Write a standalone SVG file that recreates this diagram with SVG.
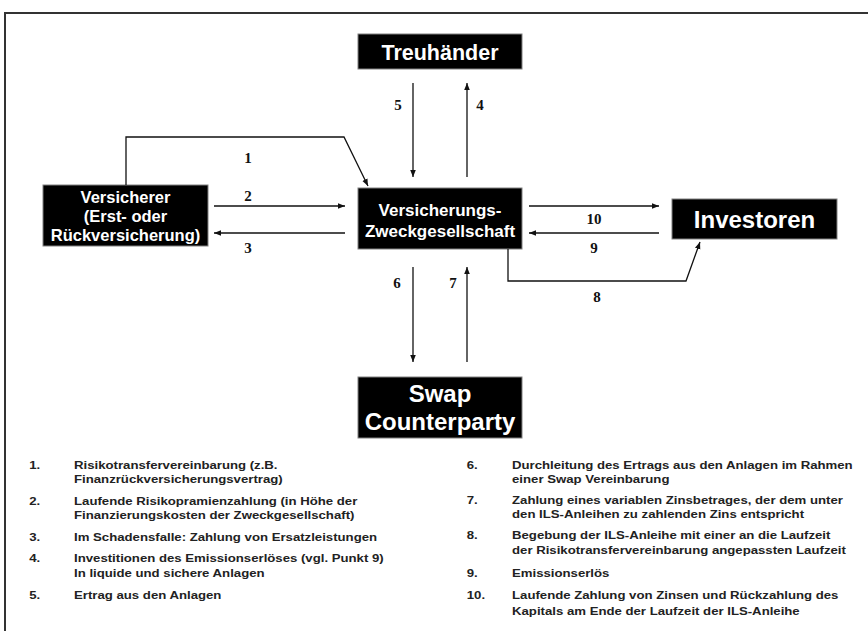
<svg xmlns="http://www.w3.org/2000/svg" width="868" height="631" viewBox="0 0 868 631">
<style>
.box{fill:#000;stroke:#808080;stroke-width:1}
.bt{fill:#fff;font-family:"Liberation Sans",Arial,sans-serif;font-weight:bold;text-anchor:middle}
.ln{fill:none;stroke:#111;stroke-width:1.3}
.num{font-family:"Liberation Serif","Times New Roman",serif;font-weight:bold;font-size:15px;fill:#111;text-anchor:middle}
.lg{font-family:"Liberation Sans",Arial,sans-serif;font-weight:bold;font-size:11px;fill:#222}
</style>
<defs>
<marker id="ah" viewBox="0 0 10 10" refX="10" refY="5" markerWidth="7" markerHeight="7" markerUnits="userSpaceOnUse" orient="auto">
<path d="M0,1 L10,5 L0,9 Z" fill="#111"/>
</marker>
</defs>
<rect width="868" height="631" fill="#fff"/>
<path d="M5,631 V13 H868" fill="none" stroke="#333" stroke-width="2"/>

<g id="treuhaender">
<rect class="box" x="358" y="34" width="164" height="35"/>
<text class="bt" x="440" y="60" font-size="21.5">Treuhänder</text>
</g>
<g id="versicherer">
<rect class="box" x="43" y="185" width="165" height="61"/>
<text class="bt" x="125.5" y="203" font-size="16.5">Versicherer</text>
<text class="bt" x="125.5" y="222" font-size="16.5">(Erst- oder</text>
<text class="bt" x="125.5" y="241" font-size="16.5">Rückversicherung)</text>
</g>
<g id="zweckgesellschaft">
<rect class="box" x="358" y="188" width="164" height="61"/>
<text class="bt" x="440" y="216" font-size="17">Versicherungs-</text>
<text class="bt" x="440" y="237" font-size="17">Zweckgesellschaft</text>
</g>
<g id="investoren">
<rect class="box" x="672" y="199" width="165" height="40"/>
<text class="bt" x="754.5" y="228" font-size="24">Investoren</text>
</g>
<g id="swap">
<rect class="box" x="358" y="377" width="164" height="61"/>
<text class="bt" x="440" y="402" font-size="24">Swap</text>
<text class="bt" x="440" y="430" font-size="24">Counterparty</text>
</g>

<g id="connectors">
<path class="ln" d="M126,185 V137 H344 L368,186" marker-end="url(#ah)"/>
<path class="ln" d="M214,206 H345" marker-end="url(#ah)"/>
<path class="ln" d="M345,233 H214" marker-end="url(#ah)"/>
<path class="ln" d="M413,83 V177" marker-end="url(#ah)"/>
<path class="ln" d="M467,177 V83" marker-end="url(#ah)"/>
<path class="ln" d="M413,267 V362" marker-end="url(#ah)"/>
<path class="ln" d="M467,362 V267" marker-end="url(#ah)"/>
<path class="ln" d="M529,206 H659" marker-end="url(#ah)"/>
<path class="ln" d="M659,233 H529" marker-end="url(#ah)"/>
<path class="ln" d="M508,249 V281 H686 L700,242" marker-end="url(#ah)"/>
<text class="num" x="248" y="163">1</text>
<text class="num" x="248" y="201">2</text>
<text class="num" x="248" y="253">3</text>
<text class="num" x="480" y="110">4</text>
<text class="num" x="398" y="110">5</text>
<text class="num" x="397" y="288">6</text>
<text class="num" x="453" y="288">7</text>
<text class="num" x="597" y="302">8</text>
<text class="num" x="594" y="253">9</text>
<text class="num" x="594" y="224">10</text>
</g>

<g id="legend" transform="scale(1.2 1)">
<text class="lg" x="24.4" y="469">1.</text>
<text class="lg" x="61.7" y="469">Risikotransfervereinbarung (z.B.</text>
<text class="lg" x="61.7" y="483">Finanzrückversicherungsvertrag)</text>
<text class="lg" x="24.4" y="505">2.</text>
<text class="lg" x="61.7" y="505">Laufende Risikopramienzahlung (in Höhe der</text>
<text class="lg" x="61.7" y="519">Finanzierungskosten der Zweckgesellschaft)</text>
<text class="lg" x="24.4" y="541">3.</text>
<text class="lg" x="61.7" y="541">Im Schadensfalle: Zahlung von Ersatzleistungen</text>
<text class="lg" x="24.4" y="562">4.</text>
<text class="lg" x="61.7" y="562">Investitionen des Emissionserlöses (vgl. Punkt 9)</text>
<text class="lg" x="61.7" y="577">In liquide und sichere Anlagen</text>
<text class="lg" x="24.4" y="599">5.</text>
<text class="lg" x="61.7" y="599">Ertrag aus den Anlagen</text>
<text class="lg" x="389" y="469">6.</text>
<text class="lg" x="426.7" y="469">Durchleitung des Ertrags aus den Anlagen im Rahmen</text>
<text class="lg" x="426.7" y="483">einer Swap Vereinbarung</text>
<text class="lg" x="389" y="504">7.</text>
<text class="lg" x="426.7" y="504">Zahlung eines variablen Zinsbetrages, der dem unter</text>
<text class="lg" x="426.7" y="518">den ILS-Anleihen zu zahlenden Zins entspricht</text>
<text class="lg" x="389" y="539">8.</text>
<text class="lg" x="426.7" y="539">Begebung der ILS-Anleihe mit einer an die Laufzeit</text>
<text class="lg" x="426.7" y="554">der Risikotransfervereinbarung angepassten Laufzeit</text>
<text class="lg" x="389" y="577">9.</text>
<text class="lg" x="426.7" y="577">Emissionserlös</text>
<text class="lg" x="389" y="599">10.</text>
<text class="lg" x="426.7" y="599">Laufende Zahlung von Zinsen und Rückzahlung des</text>
<text class="lg" x="426.7" y="615">Kapitals am Ende der Laufzeit der ILS-Anleihe</text>
</g>
</svg>
